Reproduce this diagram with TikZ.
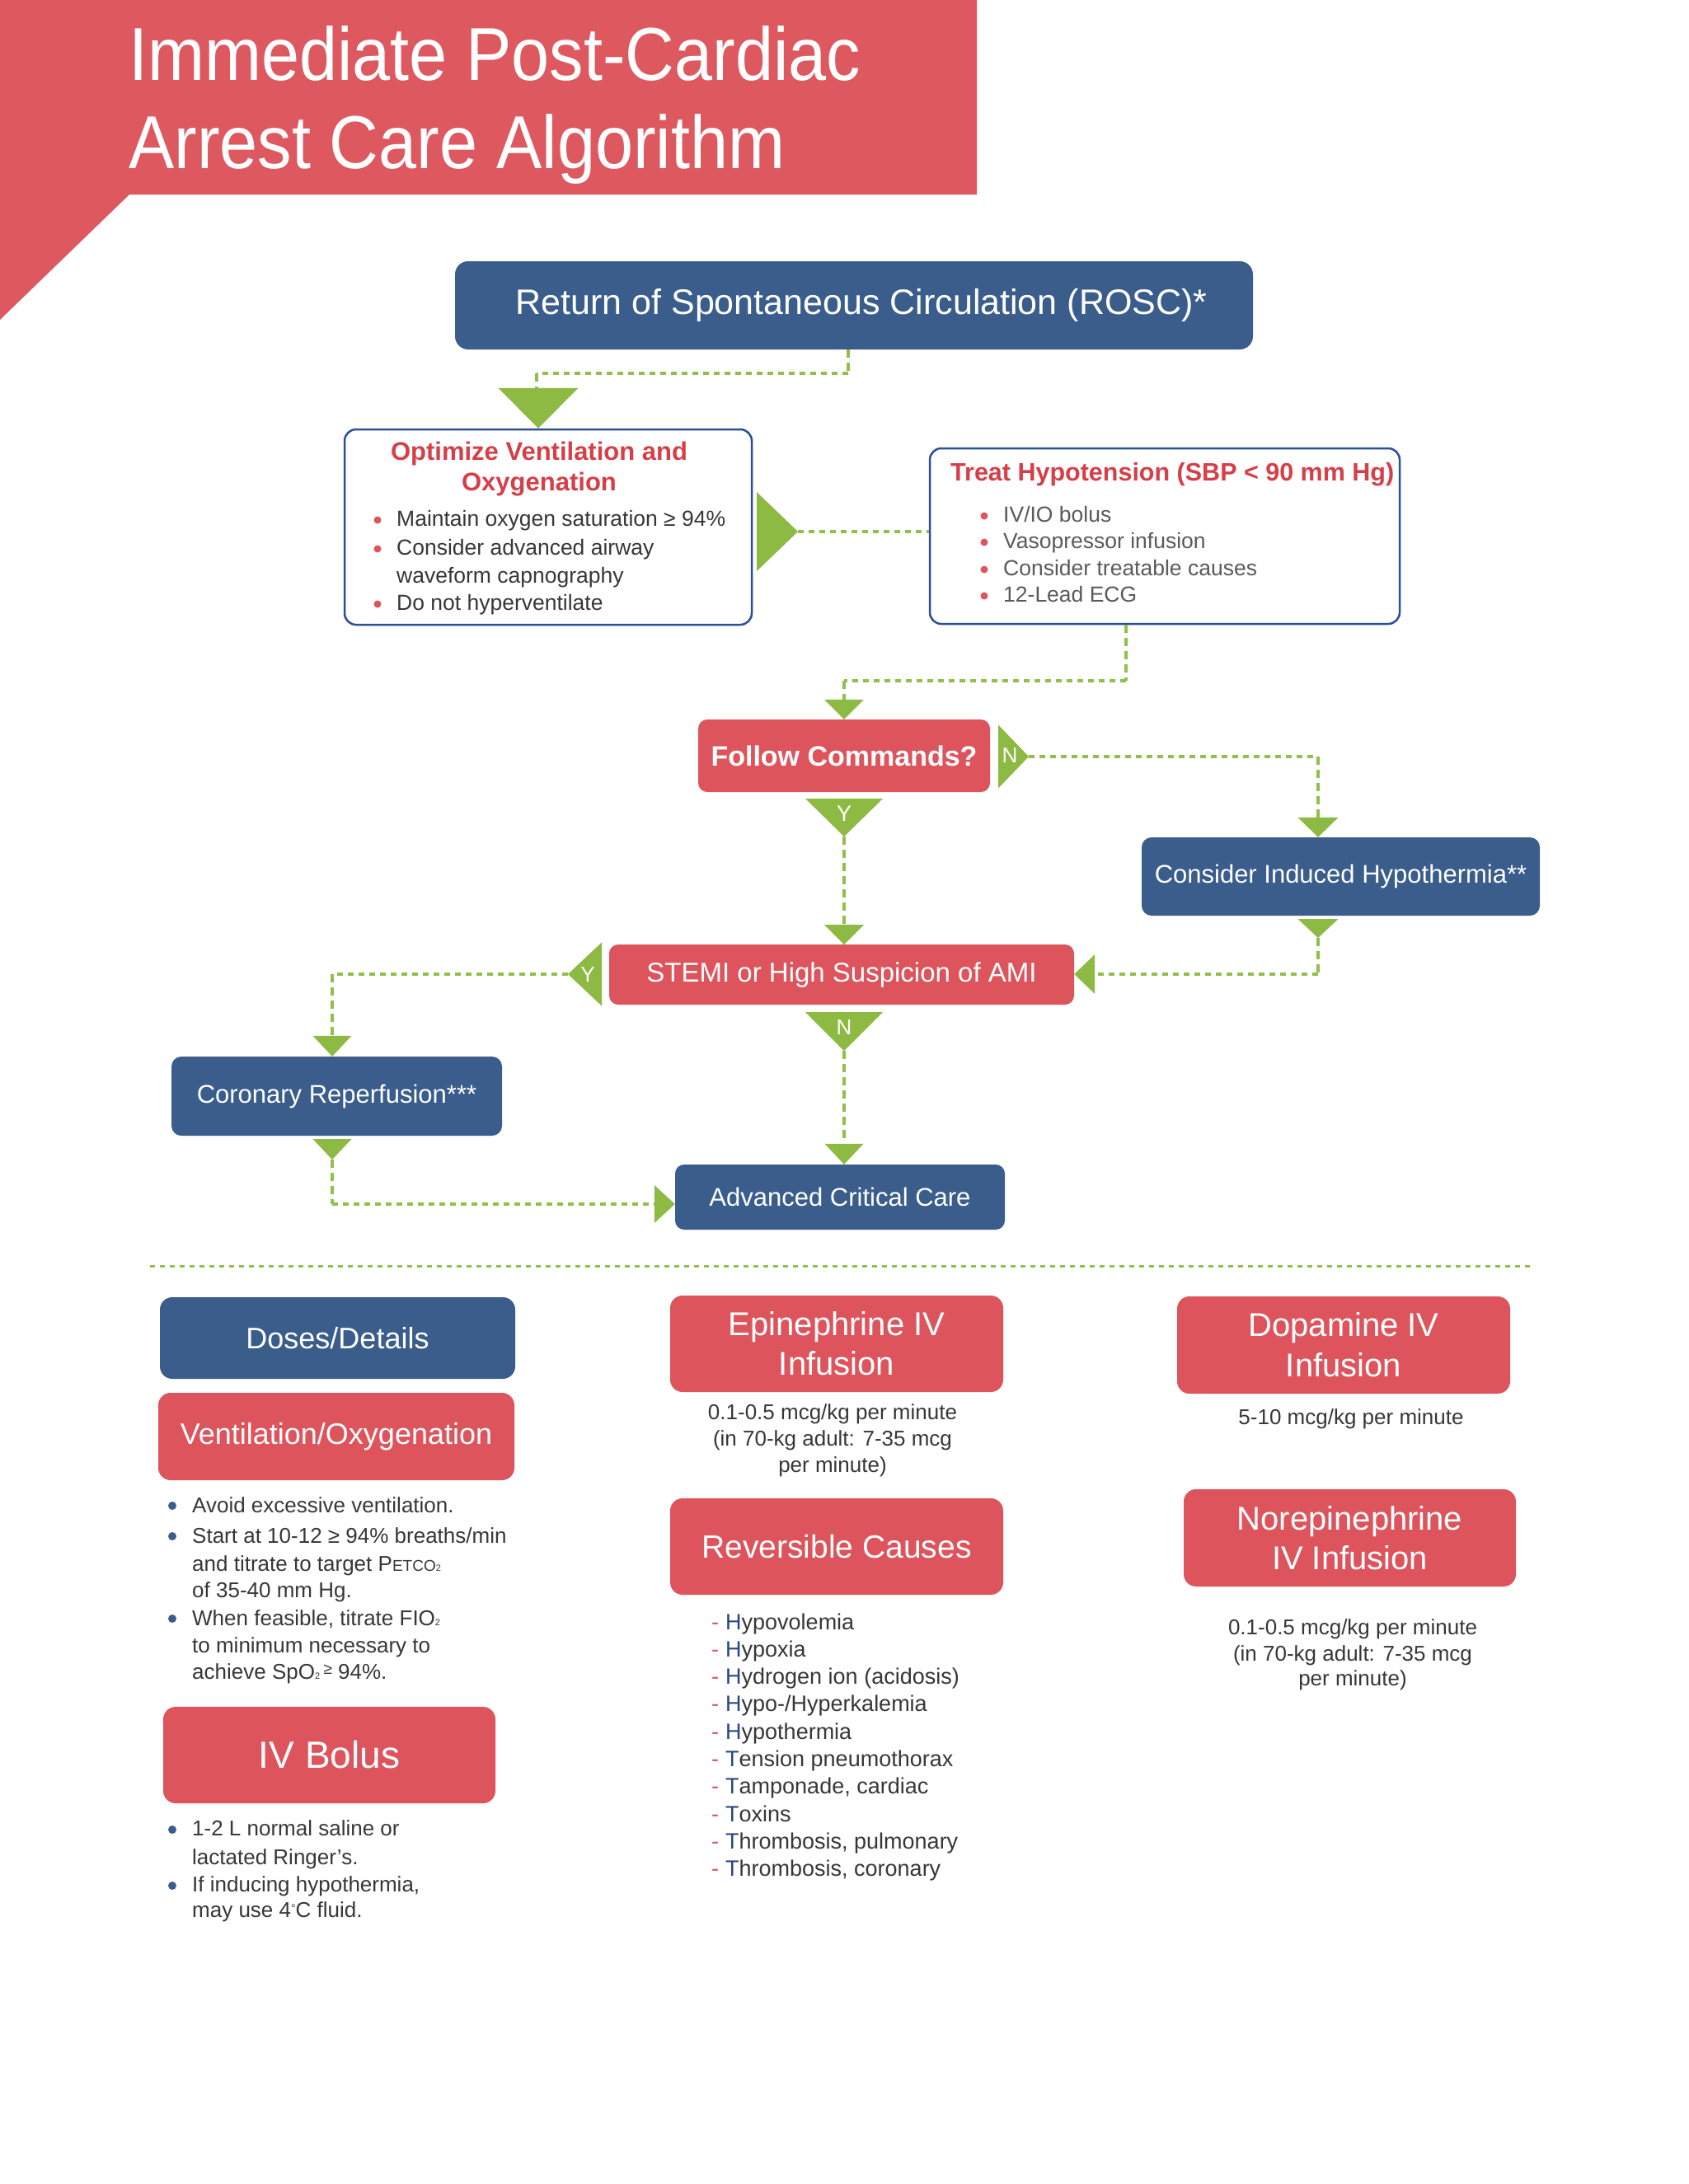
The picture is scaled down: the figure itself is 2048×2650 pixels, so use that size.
\documentclass[tikz,border=0pt]{standalone}
\usepackage{fontspec}
\setmainfont{Liberation Sans}
\newfontfamily\titlefont[FakeStretch=0.91]{Liberation Sans}
\usetikzlibrary{calc}
\definecolor{cred}{RGB}{221,84,92}
\definecolor{cred2}{RGB}{214,62,72}
\definecolor{ctitle}{RGB}{222,88,96}
\definecolor{cblue}{RGB}{58,93,140}
\definecolor{cblue2}{RGB}{40,70,130}
\definecolor{cborder}{RGB}{40,80,150}
\definecolor{cgreen}{RGB}{141,186,67}
\definecolor{cline}{RGB}{146,190,76}
\definecolor{ctext}{RGB}{55,55,55}
\definecolor{ctextl}{RGB}{90,90,90}
\newcommand\fsz[2]{\fontsize{#1}{#2}\selectfont}
\newcommand\tridown[3]{\fill[cgreen] #1 -- ++(-#2/2,-#3) -- ++(#2,0) -- cycle;}
\newcommand\triright[3]{\fill[cgreen] #1 -- ++(-#3,-#2/2) -- ++(0,#2) -- cycle;}
\newcommand\trileft[3]{\fill[cgreen] #1 -- ++(#3,-#2/2) -- ++(0,#2) -- cycle;}
\begin{document}
\begin{tikzpicture}[x=1pt,y=-1pt,
  box/.style={rounded corners=13pt, inner sep=0pt, text=white, align=center},
  bluebox/.style={box, fill=cblue},
  redbox/.style={box, fill=cred},
  outline/.style={draw=cborder, line width=2.5pt, rounded corners=14pt, fill=white},
  hline/.style={draw=cline, line width=4pt, dash pattern=on 7pt off 6pt},
  vline/.style={draw=cline, line width=4pt, dash pattern=on 10pt off 6pt},
  tx/.style={anchor=base west, inner sep=0pt, text=ctext},
  tc/.style={anchor=base, inner sep=0pt, text=ctext},
  lbl/.style={text=white, inner sep=0pt, font=\fsz{26}{26}}
]
\useasboundingbox (0,0) rectangle (2048,2650);
\fill[white] (0,0) rectangle (2048,2650);

% ---------- title banner
\fill[ctitle] (0,0) -- (1185,0) -- (1185,236) -- (157,236) -- (0,388) -- cycle;
\node[anchor=base west, inner sep=0pt, text=white, font=\titlefont\fsz{91}{91}] (title1) at (156,97) {Immediate Post-Cardiac};
\node[anchor=base west, inner sep=0pt, text=white, font=\titlefont\fsz{91}{91}] (title2) at (156,204) {Arrest Care Algorithm};

% ---------- flowchart boxes
\node[bluebox, rounded corners=16pt, minimum width=968pt, minimum height=107pt, font=\fsz{43}{43}] (rosc) at (1036,370.5) {\hspace*{18pt}Return of Spontaneous Circulation (ROSC)*};

\node[outline, minimum width=494pt, minimum height=237pt] (optim) at (665,639.5) {};
\node[tc, text=cred2, font=\bfseries\fsz{31}{31}] (optT1) at (654,558) {Optimize Ventilation and};
\node[tc, text=cred2, font=\bfseries\fsz{31}{31}] (optT2) at (654,595) {Oxygenation};
\fill[cred] (458,631) circle (4.5pt);
\node[tx, font=\fsz{26.5}{26.5}] (opt1) at (481,638) {Maintain oxygen saturation ≥ 94\%};
\fill[cred] (458,666) circle (4.5pt);
\node[tx, font=\fsz{26.5}{26.5}] (opt2) at (481,673) {Consider advanced airway};
\node[tx, font=\fsz{26.5}{26.5}] (opt3) at (481,707) {waveform capnography};
\fill[cred] (458,733) circle (4.5pt);
\node[tx, font=\fsz{26.5}{26.5}] (opt4) at (481,740) {Do not hyperventilate};

\node[outline, minimum width=570pt, minimum height=213pt] (treat) at (1413,650.5) {};
\node[tx, text=cred2, font=\bfseries\fsz{30.5}{30.5}] (treatT) at (1153,583) {Treat Hypotension (SBP < 90 mm Hg)};
\fill[cred] (1194,626) circle (4.5pt);
\node[tx, text=ctextl, font=\fsz{26.5}{26.5}] (tr1) at (1217,633) {IV/IO bolus};
\fill[cred] (1194,658) circle (4.5pt);
\node[tx, text=ctextl, font=\fsz{26.5}{26.5}] (tr2) at (1217,665) {Vasopressor infusion};
\fill[cred] (1194,691) circle (4.5pt);
\node[tx, text=ctextl, font=\fsz{26.5}{26.5}] (tr3) at (1217,698) {Consider treatable causes};
\fill[cred] (1194,723) circle (4.5pt);
\node[tx, text=ctextl, font=\fsz{26.5}{26.5}] (tr4) at (1217,730) {12-Lead ECG};

\node[redbox, rounded corners=11pt, minimum width=354pt, minimum height=88pt, font=\bfseries\fsz{34}{34}] (follow) at (1024,917) {Follow Commands?};
\node[bluebox, rounded corners=12pt, minimum width=483pt, minimum height=95pt, font=\fsz{31}{31}] (consider) at (1626.5,1063.5) {Consider Induced Hypothermia**};
\node[redbox, rounded corners=11pt, minimum width=564pt, minimum height=73pt, font=\fsz{33}{33}] (stemi) at (1021,1182.5) {STEMI or High Suspicion of AMI};
\node[bluebox, rounded corners=12pt, minimum width=401pt, minimum height=96pt, font=\fsz{31}{31}] (coronary) at (408.5,1330) {Coronary Reperfusion***};
\node[bluebox, rounded corners=11pt, minimum width=400pt, minimum height=79pt, font=\fsz{31}{31}] (acc) at (1019,1452.5) {Advanced Critical Care};

% ---------- connectors
% ROSC -> Optimize
\draw[vline] (rosc.south -| 1029,0) -- (1029,453) coordinate (c1);
\draw[hline] (c1) -- (651,453) coordinate (c2);
\draw[vline] (c2) -- (651,472);
\tridown{(optim.north -| 653,0)}{97}{49}
% Optimize -> Treat
\triright{(968,645)}{96}{50}
\draw[hline] (968,645) -- (treat.west |- 0,645);
% Treat -> Follow
\draw[vline] (treat.south -| 1366,0) -- (1366,826) coordinate (c3);
\draw[hline] (c3) -- (1024,826) coordinate (c4);
\draw[vline] (c4) -- (1024,850);
\tridown{(follow.north)}{48}{24}
% Follow -> N -> Consider
\triright{(1248,918)}{77}{37}
\node[lbl] (nlab1) at (1225,917) {N};
\draw[hline] (1248,918) -- (1599,918) coordinate (c5);
\draw[vline] (c5) -- (1599,994);
\tridown{(consider.north -| 1599,0)}{49}{24}
% Follow -> Y -> STEMI
\tridown{(1024,1015)}{94}{46}
\node[lbl, font=\fsz{27}{27}] (ylab1) at (1024,987) {Y};
\draw[vline] (1024,1015) -- (1024,1122);
\tridown{(1024,1146)}{48}{24}
% Consider -> STEMI
\tridown{(1599,1138)}{49}{23}
\draw[vline] (1599,1138) -- (1599,1182) coordinate (c6);
\draw[hline] (c6) -- (1329,1182);
\trileft{(stemi.east |- 0,1182)}{48}{25}
% STEMI -> Y -> Coronary
\trileft{(689,1182)}{77}{41}
\node[lbl] (ylab2) at (713,1183) {Y};
\draw[hline] (689,1182) -- (403,1182) coordinate (c7);
\draw[vline] (c7) -- (403,1257);
\tridown{(coronary.north -| 403,0)}{47}{25}
% STEMI -> N -> Advanced
\tridown{(1024,1275)}{94}{47}
\node[lbl] (nlab2) at (1024,1247) {N};
\draw[vline] (1024,1275) -- (1024,1387);
\tridown{(acc.north -| 1024,0)}{47}{25}
% Coronary -> Advanced
\tridown{(403,1407)}{47}{25}
\draw[vline] (403,1407) -- (403,1461) coordinate (c8);
\draw[hline] (c8) -- (795,1461);
\triright{(acc.west |- 0,1461)}{46}{25}

% ---------- separator
\coordinate (sepL) at (182,1536);
\coordinate (sepR) at (1862,1536);
\draw[hline, line width=3pt, dash pattern=on 6pt off 6pt] (sepL) -- (sepR);

% ---------- left column
\node[bluebox, rounded corners=15pt, minimum width=431pt, minimum height=99pt, font=\fsz{36}{36}] (doses) at (409.5,1623.5) {Doses/Details};
\node[redbox, rounded corners=15pt, minimum width=432pt, minimum height=106pt, font=\fsz{36}{36}] (vent) at (408,1743) {Ventilation/Oxygenation};
\fill[cblue] (209,1827) circle (5pt);
\node[tx, font=\fsz{26}{26}] (v1) at (233,1835) {Avoid excessive ventilation.};
\fill[cblue] (209,1864) circle (5pt);
\node[tx, font=\fsz{26}{26}] (v2) at (233,1872) {Start at 10-12 ≥ 94\% breaths/min};
\node[tx, font=\fsz{26}{26}] (v3) at (233,1906) {and titrate to target P{\fsz{19}{19}ETCO}{\fsz{11}{11}2}};
\node[tx, font=\fsz{26}{26}] (v4) at (233,1938) {of 35-40 mm Hg.};
\fill[cblue] (209,1964) circle (5pt);
\node[tx, font=\fsz{26}{26}] (v5) at (233,1972) {When feasible, titrate FIO{\fsz{11}{11}2}};
\node[tx, font=\fsz{26}{26}] (v6) at (233,2005) {to minimum necessary to};
\node[tx, font=\fsz{26}{26}] (v7) at (233,2037) {achieve SpO{\fsz{11}{11}2}\,\raisebox{6pt}{\fsz{19}{19}≥} 94\%.};

\node[redbox, rounded corners=15pt, minimum width=403pt, minimum height=117pt, font=\fsz{46}{46}] (ivb) at (399.5,2129.5) {IV Bolus};
\fill[cblue] (209,2220) circle (5pt);
\node[tx, font=\fsz{26}{26}] (b1) at (233,2227) {1-2 L normal saline or};
\node[tx, font=\fsz{26}{26}] (b2) at (233,2262) {lactated Ringer’s.};
\fill[cblue] (209,2288) circle (5pt);
\node[tx, font=\fsz{26}{26}] (b3) at (233,2295) {If inducing hypothermia,};
\node[tx, font=\fsz{26}{26}] (b4) at (233,2326) {may use 4\raisebox{6pt}{\fsz{14}{14}°}C fluid.};

% ---------- middle column
\node[redbox, rounded corners=15pt, minimum width=404pt, minimum height=117pt, font=\fsz{40}{48}] (epi) at (1015,1630.5) {Epinephrine IV\\Infusion};
\node[tc, font=\fsz{26}{26}] (e1) at (1010,1722) {0.1-0.5 mcg/kg per minute};
\node[tc, font=\fsz{26}{26}] (e2) at (1010,1754) {(in 70-kg adult: 7-35 mcg};
\node[tc, font=\fsz{26}{26}] (e3) at (1010,1786) {per minute)};

\node[redbox, rounded corners=15pt, minimum width=404pt, minimum height=117pt, font=\fsz{39}{39}] (rev) at (1015,1876.5) {Reversible Causes};
\newcommand\hcause[2]{\makebox[17pt][l]{\textcolor{cred}{-}}\textcolor{cblue2}{#1}#2}
\node[tx, font=\fsz{27}{27}] (r1) at (863,1977) {\hcause{H}{ypovolemia}};
\node[tx, font=\fsz{27}{27}] (r2) at (863,2010.3) {\hcause{H}{ypoxia}};
\node[tx, font=\fsz{27}{27}] (r3) at (863,2043.6) {\hcause{H}{ydrogen ion (acidosis)}};
\node[tx, font=\fsz{27}{27}] (r4) at (863,2076.9) {\hcause{H}{ypo-/Hyperkalemia}};
\node[tx, font=\fsz{27}{27}] (r5) at (863,2110.2) {\hcause{H}{ypothermia}};
\node[tx, font=\fsz{27}{27}] (r6) at (863,2143.5) {\hcause{T}{ension pneumothorax}};
\node[tx, font=\fsz{27}{27}] (r7) at (863,2176.8) {\hcause{T}{amponade, cardiac}};
\node[tx, font=\fsz{27}{27}] (r8) at (863,2210.1) {\hcause{T}{oxins}};
\node[tx, font=\fsz{27}{27}] (r9) at (863,2243.4) {\hcause{T}{hrombosis, pulmonary}};
\node[tx, font=\fsz{27}{27}] (r10) at (863,2276.7) {\hcause{T}{hrombosis, coronary}};

% ---------- right column
\node[redbox, rounded corners=15pt, minimum width=404pt, minimum height=118pt, font=\fsz{40}{49}] (dopa) at (1630,1632) {Dopamine IV\\Infusion};
\node[tc, font=\fsz{26}{26}] (d1) at (1639,1728) {5-10 mcg/kg per minute};
\node[redbox, rounded corners=15pt, minimum width=403pt, minimum height=118pt, font=\fsz{40}{48}] (norepi) at (1637.5,1866) {Norepinephrine\\IV Infusion};
\node[tc, font=\fsz{26}{26}] (n1) at (1641,1983) {0.1-0.5 mcg/kg per minute};
\node[tc, font=\fsz{26}{26}] (n2) at (1641,2015) {(in 70-kg adult: 7-35 mcg};
\node[tc, font=\fsz{26}{26}] (n3) at (1641,2045) {per minute)};
\end{tikzpicture}
\end{document}
